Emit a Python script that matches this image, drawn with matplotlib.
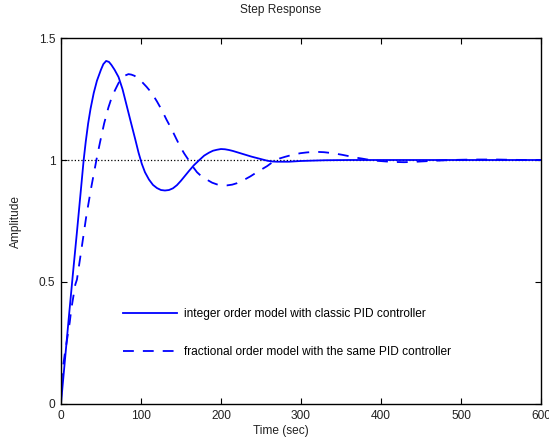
import matplotlib
matplotlib.use('Agg')
import matplotlib.pyplot as plt

plt.rcParams['font.family'] = ['Liberation Sans', 'DejaVu Sans']
plt.rcParams['font.size'] = 8.6

# step response, integer order plant + classic PID
t_int = [0, 5, 10, 15, 20, 25, 28.4, 31, 34, 37, 41, 45, 50, 53, 56.5, 60,
         63, 67, 72, 77, 82, 87, 93, 97, 101, 105, 110, 115, 120, 125, 130,
         135, 140, 145, 150, 155, 160, 166, 173, 179, 185, 190, 195, 200,
         205, 210, 215, 222, 230, 238, 245, 252, 258, 264, 270, 285, 300,
         330, 360, 400, 450, 500, 550, 600]
y_int = [0, 0.18, 0.36, 0.535, 0.705, 0.88, 1.0, 1.075, 1.15, 1.21, 1.275,
         1.325, 1.37, 1.393, 1.406, 1.402, 1.39, 1.37, 1.34, 1.29, 1.225,
         1.16, 1.083, 1.03, 0.985, 0.95, 0.92, 0.898, 0.885, 0.877, 0.875,
         0.877, 0.884, 0.897, 0.915, 0.935, 0.955, 0.978, 1.0, 1.018, 1.03,
         1.038, 1.042, 1.045, 1.044, 1.041, 1.037, 1.03, 1.022, 1.014, 1.008,
         1.002, 0.997, 0.994, 0.993, 0.993, 0.996, 0.999, 1.0, 1.0, 1.0,
         1.0, 1.0, 1.0]

# step response, fractional order plant with the same PID
t_frac = [0, 1.2, 4.6, 11, 13, 18, 20, 25, 31.7, 38, 42.6, 45.5, 49, 54,
          59.3, 64, 69.8, 73, 77, 80, 84.4, 88, 92, 96, 101, 107, 113.6, 120,
          126, 132, 138.7, 144, 149, 154, 159.5, 165, 170, 176, 182.6, 189,
          195, 201, 207.6, 214, 220, 228, 236.8, 243, 250, 257.7, 266, 273,
          280, 290, 299.5, 307, 315, 322, 328.7, 337, 345, 352, 358, 364,
          370, 376, 383, 394, 406, 417, 428.6, 440, 450, 462, 475, 487, 500,
          515, 530, 545, 560, 580, 600]
y_frac = [0, 0.12, 0.2, 0.335, 0.39, 0.49, 0.51, 0.62, 0.77, 0.89, 0.97,
          1.02, 1.075, 1.15, 1.215, 1.262, 1.301, 1.322, 1.338, 1.346, 1.352,
          1.35, 1.345, 1.335, 1.321, 1.3, 1.274, 1.24, 1.205, 1.165, 1.124,
          1.088, 1.055, 1.027, 1.0, 0.972, 0.95, 0.932, 0.919, 0.907, 0.9,
          0.897, 0.896, 0.899, 0.905, 0.917, 0.933, 0.946, 0.96, 0.975,
          0.995, 1.006, 1.013, 1.022, 1.028, 1.031, 1.033, 1.033, 1.032,
          1.029, 1.025, 1.021, 1.017, 1.013, 1.009, 1.006, 1.002, 0.997,
          0.994, 0.992, 0.991, 0.992, 0.994, 0.996, 0.998, 1.0, 1.001, 1.002,
          1.002, 1.002, 1.001, 1.0, 1.0]

xticks = [0, 100, 200, 300, 400, 500, 600]
yticks = [0, 0.5, 1, 1.5]
ytick_labels = ['0', '0.5', '1', '1.5']

fig = plt.figure(figsize=(5.49, 4.42), dpi=100)
ax = fig.add_axes([0.111, 0.086, 0.8745, 0.828])

ax.plot([0, 600], [1, 1], color='black', linestyle=':', linewidth=0.9)
ax.plot(t_int, y_int, color='#0000ff', linewidth=1.3,
        label='integer order model with classic PID controller')
ax.plot(t_frac, y_frac, color='#0000ff', linewidth=1.3, linestyle=(0, (6, 5)),
        label='fractional order model with the same PID controller')

ax.set_xlim(0, 600)
ax.set_ylim(0, 1.5)
ax.set_xticks(xticks)
ax.set_xticklabels([str(v) for v in xticks])
ax.set_yticks(yticks)
ax.set_yticklabels(ytick_labels)
ax.tick_params(direction='in', length=4, width=0.8, top=True, right=True,
               colors='black', labelcolor='#222222', pad=4)
for s in ax.spines.values():
    s.set_linewidth(1.0)

ax.set_ylabel('Amplitude', color='#222222', labelpad=12)
fig.text(0.512, 0.024, 'Time (sec)', ha='center', va='center', color='#222222')
fig.text(0.512, 0.977, 'Step Response', ha='center', va='center', color='#222222')

ax.legend(loc='center left', bbox_to_anchor=(0.216, 0.2466),
          bbox_transform=fig.transFigure, frameon=False, borderaxespad=0,
          handlelength=4.5, handletextpad=0.6, labelspacing=2.2)

fig.savefig('out.png', dpi=100)
